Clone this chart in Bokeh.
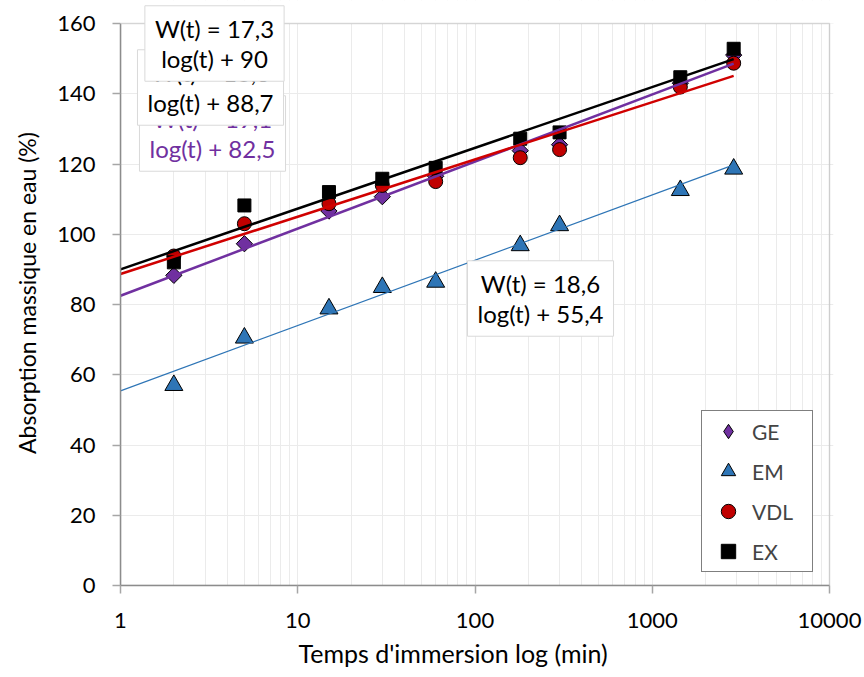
import numpy as np
from bokeh.plotting import figure
from bokeh.models import (Range1d, FixedTicker, Label, Legend, LegendItem,
                          BoxAnnotation, Title)
from bokeh.embed import file_html
from bokeh.resources import INLINE

# ---------------- data ----------------
t = [2, 5, 15, 30, 60, 180, 300, 1440, 2880]
GE = [88.3, 97.3, 106.6, 110.7, 116.5, 123.8, 125.5, 143.0, 151.0]
EM = [57.0, 70.5, 78.8, 84.9, 86.4, 96.8, 102.5, 112.5, 118.6]
VDL = [93.8, 103.0, 108.7, 113.9, 115.0, 121.8, 124.1, 141.9, 148.7]
EX = [92.0, 108.2, 112.0, 115.8, 118.9, 127.2, 129.0, 144.7, 152.8]

series_names = ["GE", "EM", "VDL", "EX"]
slopes = [19.1, 18.6, 16.3, 17.3]
intercepts = [82.5, 55.4, 88.7, 90.0]
eq_texts = ["W(t) = 19,1\nlog(t) + 82,5",
            "W(t) = 18,6\nlog(t) + 55,4",
            "W(t) = 16,3\nlog(t) + 88,7",
            "W(t) = 17,3\nlog(t) + 90"]
trend_t = [1, 2880]

x_ticks = [1, 10, 100, 1000, 10000]
x_tick_labels = ["1", "10", "100", "1000", "10000"]
y_ticks = [0, 20, 40, 60, 80, 100, 120, 140, 160]
y_max = 160
x_title = "Temps d'immersion log (min)"
y_title = "Absorption massique en eau (%)"

FONT = "Lato"
PX_PER_UNIT = 562 / 160.0      # vertical scale of the frame
PX_PER_DECADE = 709 / 4.0      # horizontal scale of the frame

p = figure(width=864, height=677, x_axis_type="log",
           x_range=Range1d(1, 10 ** (4 + 4 / PX_PER_DECADE)),
           y_range=Range1d(0, y_max + 23 / PX_PER_UNIT),
           output_backend="svg", toolbar_location=None,
           min_border_left=120, min_border_right=31,
           min_border_top=0, min_border_bottom=92)
p.background_fill_color = "white"
p.border_fill_color = "white"
p.outline_line_color = None

minor = [m * d for d in [1, 10, 100, 1000] for m in range(2, 10)]
p.xaxis.ticker = FixedTicker(ticks=x_ticks, minor_ticks=minor)
p.xaxis.major_label_overrides = {k: v for k, v in zip(x_ticks, x_tick_labels)}
p.yaxis.ticker = FixedTicker(ticks=y_ticks)
p.xaxis.bounds = (x_ticks[0], x_ticks[-1])
p.yaxis.bounds = (0, y_max)

for ax in [p.xaxis[0], p.yaxis[0]]:
    ax.axis_line_color = "#8c8c8c"
    ax.axis_line_width = 1.5
    ax.major_tick_line_color = "#a6a6a6"
    ax.major_tick_line_width = 1.5
    ax.major_tick_out = 8
    ax.major_tick_in = 0
    ax.minor_tick_line_color = None
    ax.major_label_text_font = FONT
    ax.major_label_text_font_size = "22px"
    ax.major_label_text_color = "black"
p.xaxis.major_label_standoff = 19
p.yaxis.major_label_standoff = 17

p.xgrid.grid_line_color = "#ebebeb"
p.xgrid.minor_grid_line_color = "#ebebeb"
p.ygrid.grid_line_color = "#ebebeb"

colors = ["#7030A0", "#2E75B6", "#C00000", "#000000"]
line_colors = ["#7030A0", "#2E75B6", "#D00000", "#000000"]
line_widths = [2.5, 1.2, 2.5, 2.5]

# legend proxy for the diamond symbol (zero size in the plot itself)
r_ge_leg = p.scatter(t, GE, marker="diamond", size=0,
                     fill_color=colors[0], line_color="black", line_width=1)
# markers
r_ge = p.scatter(t, GE, marker="square", size=11.5, angle=np.pi / 4,
                 fill_color=colors[0], line_color="black", line_width=1)
r_em = p.scatter(t, EM, marker="triangle", size=18,
                 fill_color=colors[1], line_color="black", line_width=1)
r_vdl = p.scatter(t, VDL, marker="circle", size=14,
                  fill_color=colors[2], line_color="black", line_width=1)
r_ex = p.scatter(t, EX, marker="square", size=13,
                 fill_color=colors[3], line_color="black", line_width=1)

# trend lines
for a, b, c, w in zip(slopes, intercepts, line_colors, line_widths):
    yy = [a * np.log10(v) + b for v in trend_t]
    p.line(trend_t, yy, line_color=c, line_width=w)

# white area above the plot frame and frame outline
p.add_layout(BoxAnnotation(bottom=y_max, fill_color="white", fill_alpha=1,
                           line_color=None))
p.add_layout(BoxAnnotation(left=x_ticks[0], right=x_ticks[-1], bottom=0, top=y_max,
                           fill_color=None, fill_alpha=0,
                           line_color="#8c8c8c", line_width=1.5))

# legend
lg = Legend(items=[LegendItem(label=n, renderers=[r]) for n, r in
                   zip(series_names, [r_ge_leg, r_em, r_vdl, r_ex])])
lg.location = (581, 13)
lg.margin = 0
lg.padding = 2
lg.spacing = 4
lg.label_height = 36
lg.glyph_height = 36
lg.glyph_width = 48
lg.label_width = 58
lg.label_standoff = 0
lg.label_text_font = FONT
lg.label_text_font_size = "21px"
lg.border_line_color = "black"
lg.border_line_width = 1.5
lg.background_fill_color = "white"
lg.background_fill_alpha = 1
p.add_layout(lg)

# equation boxes (frame-relative screen positions)
boxes = [
    (eq_texts[0], 92, 452, "#7030A0"),
    (eq_texts[2], 90, 498, "black"),
    (eq_texts[3], 94, 542, "black"),
    (eq_texts[1], 420, 287, "black"),
]
for txt, sx, sy, col in boxes:
    p.add_layout(Label(x=sx, y=sy, x_units="screen", y_units="screen", text=txt,
                       text_align="center", text_baseline="middle",
                       text_font=FONT, text_font_size="24px",
                       text_color=col, text_line_height=1.05,
                       background_fill_color="white", background_fill_alpha=1,
                       border_line_color="#d9d9d9", border_line_width=1,
                       padding=dict(left=10, right=10, top=8, bottom=8)))

# axis titles
p.add_layout(Title(text=y_title, align="center", vertical_align="top",
                   offset=35, standoff=24,
                   text_font=FONT, text_font_size="23px",
                   text_font_style="normal", text_color="black"), "left")
p.add_layout(Title(text=x_title, align="left", offset=178, standoff=10,
                   text_font=FONT, text_font_size="25px",
                   text_font_style="normal", text_color="black"), "below")

open("out.html", "w").write(file_html(p, INLINE))
